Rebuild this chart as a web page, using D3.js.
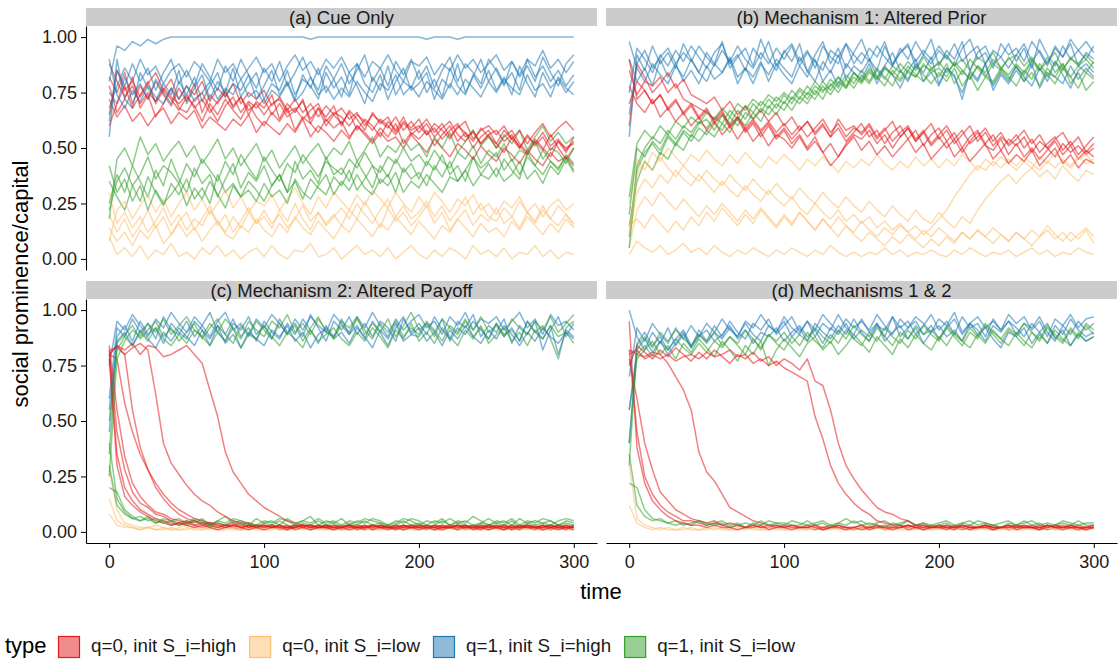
<!DOCTYPE html>
<html>
<head>
<meta charset="utf-8">
<script src="https://cdn.jsdelivr.net/npm/d3@7"></script>
<style>
  body { margin: 0; background: #fff; }
  svg { display: block; font-family: "Liberation Sans", Arial, Helvetica, sans-serif; }
</style>
</head>
<body>
<svg id="chart" width="1119" height="665"></svg>
<script>
// every run is sampled at the same times (every 5 steps, 0..300)
const times = d3.range(0, 301, 5);
const panelTitles = ["(a) Cue Only", "(b) Mechanism 1: Altered Prior", "(c) Mechanism 2: Altered Payoff", "(d) Mechanisms 1 & 2"];
const typeLabels = ["q=0, init S_i=high", "q=0, init S_i=low", "q=1, init S_i=high", "q=1, init S_i=low"];
const xTicks = [0, 100, 200, 300];
const yTicks = [0, 0.25, 0.5, 0.75, 1];

// values are social prominence in percent, one array per run

// (a) Cue Only
const cueQ0High = [
  [82,75,84,70,78,72,80,74,69,77,71,79,66,74,70,76,68,73,65,71,68,74,63,70,66,72,61,68,64,69,60,67,63,58,66,61,64,57,62,59,63,56,61,58,54,60,57,53,59,55,52,58,54,50,56,51,55,49,53,50,52],
  [65,85,76,80,73,79,84,76,81,72,78,74,80,71,77,73,79,70,75,72,76,69,73,67,72,66,70,64,69,65,68,63,66,60,65,62,59,64,58,62,57,61,55,59,62,56,53,58,52,56,50,55,58,52,48,54,50,46,53,48,55],
  [72,64,69,62,66,60,65,68,61,66,63,67,59,64,61,58,63,60,65,57,62,59,56,61,57,63,55,60,57,53,58,54,60,56,52,57,53,55,50,56,52,48,54,50,46,52,49,45,51,47,44,50,47,43,49,45,42,48,44,46,42],
  [88,80,73,78,70,75,71,77,73,70,74,68,72,66,71,75,69,73,67,70,65,70,72,66,68,63,67,70,62,66,64,60,65,62,58,63,60,56,61,58,60,56,59,54,58,61,55,57,52,56,58,53,56,50,55,52,57,51,54,49,53],
  [60,70,78,68,74,80,70,76,72,67,73,69,62,70,65,72,67,63,70,64,60,66,62,68,58,64,61,57,63,59,62,55,60,57,53,59,55,61,52,57,54,58,51,56,60,53,57,50,55,58,52,48,55,51,47,53,49,56,50,45,50],
  [78,66,72,82,68,74,64,70,77,68,66,72,75,68,62,69,73,66,71,68,72,65,70,64,67,71,63,68,60,65,61,66,58,63,60,55,62,58,64,56,59,63,57,61,55,59,62,54,58,60,56,60,54,58,52,57,61,55,59,62,58]
];
const cueQ0Low = [
  [10,2,5,1,6,0,4,2,7,1,3,0,5,2,6,1,4,0,3,5,1,6,2,0,4,3,7,1,2,5,0,3,6,2,4,1,5,0,3,6,2,0,4,1,5,3,0,6,2,4,1,5,0,3,2,6,1,4,0,3,2],
  [20,12,18,10,15,22,14,19,11,17,21,13,18,24,15,20,12,17,23,16,19,14,22,17,25,18,13,21,16,20,15,22,18,26,20,14,23,17,21,15,19,24,16,21,13,18,22,15,20,17,23,16,19,14,21,17,24,18,15,20,16],
  [8,22,26,18,24,29,21,27,19,25,30,22,27,20,25,31,23,28,21,26,24,29,22,27,32,25,20,28,23,30,26,22,29,24,31,27,23,30,25,21,28,23,30,26,21,27,24,29,22,25,20,26,23,28,21,25,19,24,27,22,25],
  [14,8,12,6,13,9,15,7,11,16,10,14,8,13,17,11,9,15,12,18,13,10,16,12,19,14,11,17,13,9,15,12,18,14,10,16,13,19,15,11,17,13,9,15,12,18,14,10,16,12,14,10,17,13,19,15,11,16,12,18,14],
  [30,16,21,14,19,12,17,23,15,20,13,18,15,22,17,12,19,14,21,16,22,16,20,14,18,24,17,21,15,19,23,18,25,20,16,22,27,19,24,18,21,26,19,24,17,22,28,20,25,19,17,23,19,26,21,16,22,18,24,20,15]
];
const cueQ1High = [
  [80,96,94,98,96,99,97,99,100,100,100,100,100,100,100,100,100,100,100,100,100,100,100,100,100,100,99,100,100,100,100,100,100,100,100,100,100,100,100,100,100,99,100,100,100,99,100,100,100,100,100,100,100,100,100,100,100,100,100,100,100],
  [62,85,78,88,80,86,76,84,90,79,85,78,88,82,76,87,80,90,83,77,86,80,89,78,84,91,82,76,87,81,88,79,85,92,80,86,78,89,83,90,81,87,77,85,91,80,88,84,79,90,85,78,89,82,87,80,91,84,78,88,92],
  [75,70,82,74,79,72,81,75,70,80,74,82,71,78,84,73,79,76,83,72,78,85,74,80,72,83,77,86,75,81,73,84,78,70,82,76,87,74,80,77,85,75,81,73,86,78,74,83,77,85,76,82,74,87,79,73,84,77,81,75,80],
  [55,90,72,68,84,77,71,79,74,85,70,77,83,72,80,75,86,73,79,84,72,79,76,85,74,81,78,72,84,77,82,74,88,79,75,83,72,80,86,76,79,84,72,81,77,88,75,82,90,80,86,79,84,76,90,82,87,80,85,78,83],
  [68,78,86,80,90,83,87,79,85,88,82,89,85,80,90,84,88,81,86,91,84,88,80,87,92,85,89,83,90,86,91,84,88,82,89,86,92,85,80,89,87,91,83,88,85,92,86,90,84,88,92,85,89,83,90,87,94,86,90,84,89],
  [90,74,68,76,71,78,73,70,77,72,78,71,75,80,72,77,74,81,73,76,70,76,73,79,71,75,82,74,78,72,77,73,80,75,71,79,76,83,74,78,73,80,76,72,79,74,81,77,73,80,75,81,77,74,83,76,79,73,82,77,74]
];
const cueQ1Low = [
  [25,38,30,42,35,28,40,33,45,36,30,41,34,38,28,36,43,32,39,35,42,33,38,30,44,36,40,34,46,38,41,35,44,38,32,42,37,45,39,43,36,44,40,47,38,42,35,46,41,44,48,40,45,38,46,42,49,44,40,47,43],
  [35,28,22,33,26,37,30,24,34,29,36,27,32,25,38,30,34,28,35,31,26,33,38,30,35,27,36,32,29,37,33,40,31,36,42,34,38,30,41,36,39,33,42,37,44,35,40,46,38,43,37,45,40,36,48,42,38,44,41,46,40],
  [18,45,50,42,55,47,52,44,49,53,46,51,43,48,54,45,50,42,47,52,44,49,41,46,51,43,48,52,45,50,47,53,44,49,55,46,51,48,54,49,52,46,55,50,57,48,53,58,51,55,50,56,52,58,49,55,60,53,57,52,55],
  [42,30,36,26,33,22,31,25,29,34,24,32,27,35,29,23,33,28,31,26,34,28,31,25,36,30,27,33,38,29,35,31,38,32,29,36,33,39,30,35,32,38,34,30,37,35,40,33,38,36,41,35,38,44,36,40,34,42,38,45,39],
  [22,35,41,33,38,46,36,42,39,34,43,37,45,40,35,44,38,47,41,36,46,40,35,43,39,47,42,37,44,41,38,45,41,48,42,39,46,43,50,44,47,42,49,44,41,48,45,51,43,49,46,52,44,49,47,53,45,50,48,43,50]
];

// (b) Mechanism 1: Altered Prior
const priorQ0High = [
  [85,74,80,78,82,75,79,72,70,68,66,63,67,60,64,58,62,57,61,55,59,54,58,62,56,60,55,59,53,57,61,55,58,52,57,60,54,58,51,56,59,53,57,50,55,58,52,56,49,54,51,55,48,53,50,46,52,48,51,47,50],
  [70,80,76,70,74,68,72,65,69,63,67,61,65,59,63,57,61,55,60,54,58,52,56,50,55,48,42,46,52,56,54,58,52,56,50,55,59,53,57,51,55,50,54,48,53,57,51,49,54,47,52,46,50,45,49,53,47,51,45,49,46],
  [60,88,82,75,79,84,77,81,74,72,70,73,67,71,65,69,63,67,62,66,60,64,58,62,57,61,55,63,58,60,56,60,54,58,62,55,59,53,57,61,54,58,52,56,60,53,57,51,55,52,56,50,54,48,52,55,49,53,47,51,55],
  [78,70,66,72,64,68,62,66,60,64,58,62,56,60,54,59,53,57,51,56,54,50,55,49,53,48,52,46,51,55,49,53,47,51,46,50,54,48,52,45,49,53,46,50,44,48,52,45,49,43,47,44,49,42,46,50,43,47,41,45,43],
  [90,72,76,70,74,67,71,66,70,64,68,62,66,60,64,59,63,58,62,57,61,56,60,55,59,63,57,61,55,59,57,61,55,59,53,57,60,54,58,52,56,60,54,58,52,55,59,53,57,51,54,58,52,56,50,54,57,51,55,48,52]
];
const priorQ0Low = [
  [25,45,40,48,44,50,46,42,47,44,49,45,42,47,43,48,44,41,46,43,47,44,40,45,42,46,43,39,44,41,45,42,47,43,40,44,41,46,42,45,41,45,42,47,44,40,45,42,46,43,40,44,41,46,43,48,44,41,45,47,43],
  [10,30,36,32,38,34,40,36,33,38,34,30,35,31,28,33,29,26,31,27,24,28,23,20,25,21,18,22,17,20,16,19,14,17,13,16,12,15,11,14,18,22,28,33,38,42,40,44,41,45,42,46,43,40,44,41,45,42,46,43,45],
  [5,22,28,24,30,26,22,27,23,19,24,20,25,21,17,22,18,23,19,15,20,16,21,17,13,18,14,19,15,12,17,13,10,14,11,15,12,9,13,10,14,11,8,12,9,13,10,7,11,8,12,9,6,10,13,9,12,8,11,14,10],
  [15,18,14,20,16,12,17,13,19,15,21,17,23,19,15,20,16,22,18,14,19,15,21,17,13,18,14,10,15,11,8,12,9,6,10,7,11,8,5,9,6,10,7,12,9,13,10,14,11,8,12,9,13,10,15,11,8,12,9,13,7],
  [2,8,5,3,6,2,4,7,3,5,2,6,3,1,4,2,5,3,1,4,2,5,3,1,4,2,6,3,1,3,1,3,2,5,2,4,1,3,2,4,2,1,4,2,5,3,1,3,2,4,1,3,5,2,4,1,3,2,5,3,2],
  [12,38,44,40,46,41,37,42,38,35,40,36,33,38,34,31,36,32,29,34,30,27,32,28,25,30,26,23,28,24,21,26,22,19,24,20,17,22,18,16,21,17,14,19,16,22,27,31,35,38,34,38,41,37,40,36,42,38,35,40,38]
];
const priorQ1High = [
  [55,92,85,96,88,93,86,97,90,84,93,88,98,86,91,95,87,99,90,85,94,89,97,84,92,98,88,95,86,93,99,90,85,96,88,93,97,86,92,99,87,94,90,98,85,93,96,88,91,97,89,95,86,99,92,87,96,90,94,98,93],
  [90,80,86,78,90,82,88,80,85,79,87,81,84,90,79,86,82,89,80,88,83,79,87,82,90,80,85,78,88,84,81,88,79,86,83,77,85,90,80,84,78,86,82,75,84,80,88,76,83,79,85,80,88,77,84,82,79,87,81,86,82],
  [75,95,90,84,92,87,94,89,96,91,86,93,97,88,92,85,95,90,98,87,93,97,89,94,86,96,91,88,97,92,88,95,91,98,87,93,96,89,94,90,96,91,87,95,99,90,93,86,97,92,95,89,98,93,87,96,91,99,94,90,96],
  [98,86,80,88,83,79,87,82,90,84,80,88,84,91,82,86,79,88,83,90,86,82,91,85,80,89,84,92,81,87,84,90,82,87,93,85,80,88,84,91,79,86,83,72,85,81,88,78,84,80,87,82,78,86,80,89,83,77,85,88,84],
  [65,88,94,86,91,95,88,93,89,96,91,87,94,89,96,90,86,93,88,95,90,96,87,93,89,85,94,91,97,88,93,89,96,91,87,95,90,98,92,88,94,90,97,89,93,96,88,94,91,86,92,97,89,94,88,95,91,97,87,93,90]
];
const priorQ1Low = [
  [10,42,50,55,52,58,54,60,57,62,59,64,61,67,63,69,66,71,68,73,70,76,72,78,74,80,76,82,78,84,80,85,81,87,83,88,84,82,87,85,89,84,88,83,90,86,82,88,85,91,86,83,89,85,91,84,88,82,87,90,86],
  [20,50,46,53,49,56,52,58,55,61,63,58,65,61,67,63,70,66,72,68,74,70,76,72,78,75,81,77,83,79,85,80,86,82,78,85,81,87,83,79,84,80,86,78,83,76,82,79,85,81,87,80,84,78,86,82,88,79,84,76,80],
  [15,35,44,40,48,45,52,49,56,53,58,55,61,57,64,60,66,62,69,65,71,67,73,70,76,72,79,75,81,77,83,79,85,81,87,84,89,85,91,86,88,92,87,90,85,91,88,93,86,90,92,87,91,85,89,93,86,90,88,92,88],
  [28,52,58,54,60,56,62,59,64,61,66,63,68,64,70,67,72,69,74,71,75,72,77,74,80,76,78,82,77,84,80,86,82,78,85,81,87,83,80,86,82,88,79,85,81,87,83,80,86,82,78,85,81,88,83,79,86,82,77,84,81],
  [5,40,48,52,47,55,51,57,53,59,56,61,58,64,60,66,63,68,65,70,67,73,70,75,72,78,74,80,77,82,79,84,81,86,83,80,85,82,88,84,86,82,89,85,81,87,84,90,86,83,88,84,90,86,82,89,85,91,87,84,89]
];

// (c) Mechanism 2: Altered Payoff
const payoffQ0High = [
  [80,35,20,14,10,8,6,5,4,3,4,3,2,3,2,3,2,1,3,2,2,3,1,2,3,2,1,2,3,2,1,2,3,2,1,3,2,2,1,2,3,2,1,2,3,1,2,3,2,1,2,3,1,2,2,3,1,2,3,2,2],
  [80,78,58,45,35,28,20,15,11,8,6,5,4,4,3,3,2,3,2,3,2,3,2,2,3,2,3,2,2,3,2,2,3,2,2,3,2,2,3,2,3,2,2,3,2,2,3,2,2,3,2,3,2,2,3,2,2,3,2,2,3],
  [82,45,28,18,13,11,8,7,5,4,5,3,4,3,2,3,4,2,3,2,3,2,3,1,2,3,2,3,2,1,2,3,2,1,3,2,3,1,2,3,2,1,3,2,2,3,1,2,3,2,3,2,1,3,2,2,3,1,2,3,2],
  [82,83,80,55,38,28,22,17,13,10,8,6,5,4,4,3,3,2,3,2,3,2,3,2,2,3,2,3,2,2,3,2,2,3,2,3,2,2,3,2,2,3,2,2,3,2,3,2,2,3,2,2,3,2,3,2,2,3,2,2,2],
  [78,30,16,12,9,7,5,4,3,4,3,2,3,2,1,2,3,2,1,2,1,2,2,1,3,2,1,2,2,1,2,1,2,3,1,2,1,2,1,2,1,2,1,2,2,1,3,1,2,1,2,1,2,1,3,2,1,2,1,2,1],
  [80,84,80,83,85,82,62,40,31,26,21,17,14,12,9,7,5,4,4,3,3,2,3,2,2,3,2,2,3,2,2,3,2,2,3,2,2,3,2,3,2,2,3,2,2,3,2,3,2,2,3,2,2,3,2,2,3,2,3,2,2],
  [84,55,34,22,16,12,9,8,6,5,4,5,3,4,3,2,3,4,2,3,2,3,2,3,1,2,3,2,2,3,2,3,1,2,3,2,2,1,3,2,2,3,2,1,2,3,2,2,1,3,2,1,3,2,2,1,3,2,2,1,3],
  [80,84,82,85,80,84,83,79,80,82,84,80,76,64,52,36,27,22,17,14,11,9,7,5,4,3,3,2,3,2,2,3,2,2,3,2,2,3,2,2,3,2,2,3,2,3,2,2,3,2,2,3,2,2,3,2,2,3,2,3,2]
];
const payoffQ0Low = [
  [15,5,3,2,1,2,1,2,1,1,2,1,1,2,1,2,1,1,2,1,1,2,1,1,2,1,2,1,1,2,1,1,2,1,2,1,1,2,1,2,1,2,1,1,2,1,2,1,1,2,1,1,2,1,2,1,1,2,1,2,1],
  [28,10,4,3,2,2,3,2,1,2,3,2,2,1,3,2,2,3,1,2,2,3,2,1,2,3,2,2,1,3,2,2,3,1,2,2,3,2,1,2,3,2,1,2,3,2,2,1,3,2,2,3,1,2,2,3,2,1,2,3,2],
  [8,3,2,2,1,2,1,1,2,1,1,2,1,2,1,1,2,1,1,2,1,1,2,1,1,2,1,2,1,1,2,1,1,2,1,1,2,1,2,1,1,2,1,1,2,1,1,2,1,1,2,1,2,1,1,2,1,1,2,1,1]
];
const payoffQ1High = [
  [60,92,88,96,90,94,87,97,91,89,95,88,93,99,90,86,94,91,97,89,93,87,96,90,94,88,98,92,86,95,91,97,89,94,88,95,92,86,96,90,94,89,97,91,87,95,92,98,88,93,90,96,85,93,89,95,82,91,97,88,94],
  [45,88,93,86,95,89,92,85,94,90,87,95,91,84,93,89,96,88,92,86,95,90,87,94,89,96,91,85,93,88,96,89,93,87,95,90,84,92,97,89,88,94,90,96,86,92,89,95,91,87,94,88,92,86,95,90,87,93,80,91,88],
  [75,95,91,98,93,88,96,92,99,94,90,97,93,88,95,99,91,94,89,96,92,98,94,89,96,91,97,93,90,98,94,90,97,92,99,93,88,96,91,95,98,92,95,89,97,93,99,91,96,94,97,91,95,99,92,96,89,98,93,95,91],
  [55,86,90,84,91,87,83,90,86,92,88,84,91,87,93,85,89,83,90,87,84,91,88,93,86,90,83,89,92,87,90,85,92,88,83,91,87,94,86,89,92,86,90,84,91,87,93,88,85,91,87,93,89,84,90,86,92,88,85,90,87]
];
const payoffQ1Low = [
  [35,85,89,93,87,91,95,88,92,86,90,94,87,92,96,89,85,93,88,95,91,87,94,89,93,86,92,97,90,88,93,89,96,91,87,94,90,95,88,92,89,95,91,86,93,90,96,88,92,87,94,89,91,86,95,90,93,87,78,92,95],
  [30,12,8,6,5,7,4,6,5,3,5,4,6,3,5,7,4,5,3,6,4,5,3,6,4,5,7,3,5,4,6,3,5,4,6,5,3,4,6,5,3,5,4,6,3,5,4,7,5,3,5,4,6,3,5,4,6,5,3,5,4],
  [50,82,88,84,90,86,92,87,84,89,85,91,88,84,90,86,92,83,89,87,93,88,84,90,87,83,91,86,89,92,87,84,90,86,92,88,83,91,87,94,86,90,85,92,88,84,91,87,93,85,89,92,86,90,84,91,87,93,88,90,85],
  [20,18,10,7,5,6,4,5,3,4,3,5,4,2,4,3,5,3,4,2,4,3,5,3,2,4,3,5,3,4,2,4,3,5,3,4,2,3,5,3,4,2,3,5,3,4,3,2,4,3,4,3,5,2,4,3,4,5,3,4,3],
  [25,78,86,91,88,94,90,96,89,93,97,91,88,94,90,96,92,87,95,91,88,95,92,98,90,94,89,96,91,87,95,92,97,89,94,90,96,88,93,99,91,94,88,96,92,89,95,91,97,90,93,88,96,92,89,95,91,97,90,94,98],
  [40,15,9,6,7,5,6,4,5,6,4,6,5,3,5,4,6,5,4,3,5,4,6,5,3,5,4,6,4,5,3,5,4,6,5,4,3,5,4,6,5,3,5,4,6,4,5,3,4,6,4,5,3,6,4,5,4,3,5,6,5]
];

// (d) Mechanisms 1 & 2
const bothQ0High = [
  [82,45,25,17,12,9,7,5,5,4,3,4,3,2,3,2,3,2,2,3,2,3,2,2,1,2,3,2,2,1,2,2,3,1,2,2,3,2,1,2,2,3,2,1,2,2,3,2,2,1,2,3,2,2,1,2,3,2,2,1,2],
  [82,80,79,81,80,76,70,64,55,36,27,23,17,11,9,7,5,4,3,3,2,3,2,2,3,2,2,3,2,2,3,2,2,3,2,2,3,2,3,2,2,3,2,2,3,2,2,3,2,2,3,2,2,3,2,3,2,2,3,2,2],
  [78,60,40,28,18,14,10,8,6,5,4,5,3,4,3,2,3,2,3,2,3,2,2,3,2,1,2,3,2,2,1,2,3,2,2,3,1,2,2,3,2,2,1,3,2,2,3,1,2,2,3,2,2,1,2,3,2,2,1,2,3],
  [80,82,78,80,78,80,77,79,80,78,81,79,80,82,79,80,76,78,75,77,74,72,70,68,52,42,30,22,17,13,10,8,5,4,3,3,2,3,2,2,3,2,2,3,2,2,3,2,2,3,2,2,3,2,3,2,2,3,2,2,3],
  [95,38,22,14,10,7,5,4,3,3,2,3,2,2,1,2,2,3,1,2,2,1,2,2,3,1,2,2,1,2,3,1,2,2,1,2,3,2,1,2,2,1,3,2,1,2,2,1,2,3,1,2,2,1,3,2,1,2,2,1,2],
  [75,84,81,78,82,79,83,80,77,81,78,82,79,76,80,78,81,77,79,75,78,76,73,78,68,66,55,40,30,24,19,15,11,9,8,6,5,3,3,2,3,2,2,3,2,2,3,2,2,3,2,3,2,2,3,2,2,3,2,2,2]
];
const bothQ0Low = [
  [30,6,3,2,1,2,1,1,2,1,1,2,1,1,2,1,2,1,1,2,1,1,2,1,2,1,1,2,1,1,2,1,2,1,1,2,1,1,2,1,1,2,1,2,1,1,2,1,1,2,1,1,2,1,2,1,1,2,1,1,2],
  [12,4,2,1,2,1,1,2,1,1,2,1,2,1,1,2,1,1,2,1,1,2,1,1,2,1,2,1,1,2,1,1,2,1,2,1,1,2,1,1,2,1,1,2,1,2,1,1,2,1,1,2,1,1,2,1,2,1,1,2,1]
];
const bothQ1High = [
  [100,88,82,90,85,92,84,89,83,91,86,93,88,95,90,87,94,91,96,89,93,97,90,95,88,94,91,98,92,89,96,90,94,88,97,92,95,89,93,98,91,95,89,97,92,94,88,96,91,95,89,94,92,97,90,86,93,89,95,91,94],
  [40,85,90,84,88,82,87,91,84,89,85,90,87,92,88,94,89,86,93,90,95,88,92,86,94,90,87,93,89,96,90,86,93,91,97,88,92,95,89,93,87,92,96,89,94,91,86,93,90,95,92,88,94,90,85,93,89,96,91,88,90],
  [70,92,86,94,89,85,92,87,93,88,94,90,96,91,88,95,92,98,93,90,97,92,89,95,91,98,94,90,96,92,95,91,98,93,89,96,92,97,94,90,96,93,99,90,94,97,92,95,91,98,94,97,91,95,88,96,93,98,92,96,97],
  [55,82,87,81,86,80,85,90,83,88,91,86,89,93,87,91,85,90,88,92,86,90,93,88,91,85,92,89,94,87,91,88,94,86,90,93,87,92,85,90,93,88,91,86,94,89,92,87,83,90,88,92,85,90,94,87,91,84,89,86,88]
];
const bothQ1Low = [
  [40,80,84,79,86,82,87,83,80,85,81,86,83,88,84,80,87,83,89,85,82,88,84,90,86,83,89,85,91,87,84,90,86,92,88,85,91,87,93,89,86,92,88,84,90,87,93,89,85,91,88,84,90,86,92,88,85,91,87,93,89],
  [35,12,7,5,6,4,5,3,4,5,3,4,5,3,4,2,4,3,5,4,3,5,4,3,4,5,3,4,6,4,5,3,4,5,3,4,5,3,4,3,4,5,3,4,3,5,4,3,4,5,3,4,5,3,4,3,5,4,3,4,4],
  [55,78,82,86,80,84,78,85,81,87,83,79,86,82,77,84,80,86,75,82,87,83,79,85,88,82,86,80,84,89,85,81,88,84,80,87,83,89,85,82,88,84,90,86,83,89,85,91,87,84,90,86,83,89,85,91,87,84,90,86,88],
  [22,20,10,6,5,4,3,4,3,5,4,3,4,2,3,4,3,5,3,4,4,3,3,5,3,4,2,4,3,5,3,4,3,2,4,3,5,3,4,2,3,4,2,4,5,3,4,3,2,4,3,5,3,4,2,3,4,3,5,3,3],
  [30,84,88,83,90,86,91,87,84,89,86,90,84,88,85,91,87,82,89,86,90,85,89,86,92,88,85,91,87,93,89,86,92,88,84,90,87,93,89,91,87,93,89,86,92,88,94,90,87,92,89,94,90,87,93,89,86,92,88,94,91]
];

const runsByPanel = [
  [cueQ0High, cueQ0Low, cueQ1High, cueQ1Low],
  [priorQ0High, priorQ0Low, priorQ1High, priorQ1Low],
  [payoffQ0High, payoffQ0Low, payoffQ1High, payoffQ1Low],
  [bothQ0High, bothQ0Low, bothQ1High, bothQ1Low]
];

const colors = ["#e31a1c", "#fdbf6f", "#1f78b4", "#33a02c"];

const svg = d3.select("#chart");
svg.append("rect").attr("width", 1119).attr("height", 665).attr("fill", "#fff");

const panelW = 511, panelH = 244, stripH = 18;
const colX = [86, 606];
const stripY = [8, 281];

runsByPanel.forEach((groups, p) => {
  const col = p % 2, row = Math.floor(p / 2);
  const left = colX[col];
  const top = stripY[row] + stripH;

  const x = d3.scaleLinear().domain([-15, 315]).range([left, left + panelW]);
  const y = d3.scaleLinear().domain([-0.05, 1.05]).range([top + panelH, top]);

  // strip
  svg.append("rect")
    .attr("x", left).attr("y", stripY[row])
    .attr("width", panelW).attr("height", stripH)
    .attr("fill", "#cccccc");
  svg.append("text")
    .attr("x", left + panelW / 2).attr("y", stripY[row] + stripH / 2)
    .attr("dy", "0.36em")
    .attr("text-anchor", "middle")
    .attr("font-size", 18.5)
    .attr("fill", "#1a1a1a")
    .text(panelTitles[p]);

  const line = d3.line()
    .x((v, i) => x(times[i]))
    .y(v => y(v / 100));

  // interleave runs of the four types
  const g = svg.append("g");
  const maxRuns = d3.max(groups, d => d.length);
  for (let j = 0; j < maxRuns; j++) {
    groups.forEach((runs, t) => {
      if (!runs[j]) return;
      g.append("path")
        .attr("d", line(runs[j]))
        .attr("fill", "none")
        .attr("stroke", colors[t])
        .attr("stroke-opacity", 0.55)
        .attr("stroke-width", 1.5)
        .attr("stroke-linejoin", "round");
    });
  }

  if (col === 0) {
    const ya = svg.append("g")
      .attr("transform", `translate(${left},0)`)
      .call(d3.axisLeft(y).tickValues(yTicks).tickFormat(d3.format(".2f"))
        .tickSize(5).tickSizeOuter(0).tickPadding(4));
    ya.selectAll("text").attr("font-size", 18).attr("fill", "#1a1a1a").attr("font-family", null);
    ya.select(".domain").attr("stroke-width", 1.1);
  }
  if (row === 1) {
    const xa = svg.append("g")
      .attr("transform", `translate(0,${top + panelH})`)
      .call(d3.axisBottom(x).tickValues(xTicks)
        .tickSize(5).tickSizeOuter(0).tickPadding(7));
    xa.selectAll("text").attr("font-size", 18).attr("fill", "#1a1a1a").attr("font-family", null);
    xa.select(".domain").attr("stroke-width", 1.1);
  }
});

// axis titles
svg.append("text")
  .attr("transform", "translate(28,284) rotate(-90)")
  .attr("text-anchor", "middle")
  .attr("font-size", 22)
  .text("social prominence/capital");
svg.append("text")
  .attr("x", 601).attr("y", 599)
  .attr("text-anchor", "middle")
  .attr("font-size", 22)
  .text("time");

// legend
const legend = svg.append("g");
legend.append("text").attr("x", 5).attr("y", 653).attr("font-size", 22).text("type");
let lx = 58;
typeLabels.forEach((label, i) => {
  legend.append("rect")
    .attr("x", lx + 0.5).attr("y", 636.5)
    .attr("width", 21).attr("height", 21)
    .attr("fill", colors[i]).attr("fill-opacity", 0.5)
    .attr("stroke", colors[i]).attr("stroke-width", 1.2);
  const txt = legend.append("text")
    .attr("x", lx + 33).attr("y", 652)
    .attr("font-size", 18.8)
    .attr("fill", "#1a1a1a")
    .text(label);
  lx = lx + 33 + txt.node().getComputedTextLength() + 13;
});
</script>
</body>
</html>
